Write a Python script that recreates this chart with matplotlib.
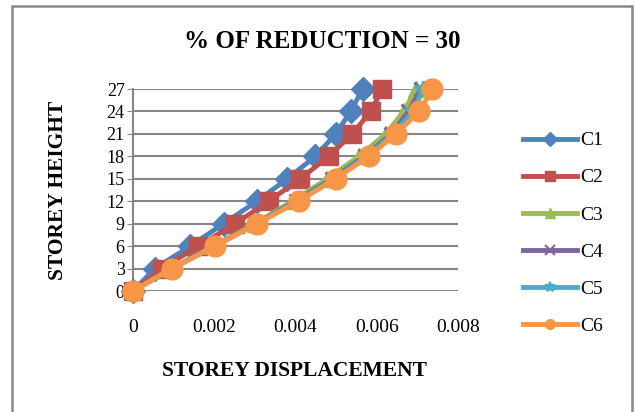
import matplotlib
matplotlib.use("Agg")
import matplotlib.pyplot as plt
from matplotlib.patches import Rectangle
from matplotlib.lines import Line2D

# Storey levels (height) and displacement of each column case
storey_height = [0, 3, 6, 9, 12, 15, 18, 21, 24, 27]
c1 = [0, 0.00054, 0.00141, 0.00223, 0.00305, 0.00380, 0.00449, 0.00499, 0.00536, 0.00565]
c2 = [0, 0.00071, 0.00161, 0.00252, 0.00334, 0.00412, 0.00482, 0.00540, 0.00585, 0.00614]
c3 = [0, 0.00094, 0.00198, 0.00300, 0.00392, 0.00478, 0.00556, 0.00622, 0.00667, 0.00696]
c4 = [0, 0.00095, 0.00200, 0.00302, 0.00400, 0.00490, 0.00570, 0.00636, 0.00678, 0.00709]
c5 = [0, 0.00096, 0.00201, 0.00304, 0.00404, 0.00495, 0.00575, 0.00640, 0.00690, 0.00714]
c6 = [0, 0.00096, 0.00202, 0.00305, 0.00408, 0.00499, 0.00581, 0.00647, 0.00705, 0.00737]

series_names = ["C1", "C2", "C3", "C4", "C5", "C6"]
x_ticks = [0, 0.002, 0.004, 0.006, 0.008]
x_tick_labels = ["0", "0.002", "0.004", "0.006", "0.008"]
y_ticks = [0, 3, 6, 9, 12, 15, 18, 21, 24, 27]

colors = ["#4F81BD", "#C0504D", "#9BBB59", "#8064A2", "#4BACC6", "#F79646"]
markers = ["D", "s", "^", "x", "*", "o"]
msizes = [12, 13, 11, 10, 12, 15]

plt.rcParams["font.family"] = ["Liberation Serif", "DejaVu Serif"]

fig = plt.figure(figsize=(6.35, 4.12), dpi=100)
ax = fig.add_axes([133 / 635, 1 - 291 / 412, 325 / 635, 202 / 412])

data = [c1, c2, c3, c4, c5, c6]
for vals, name, col, mk, ms in zip(data, series_names, colors, markers, msizes):
    ax.plot(vals, storey_height, color=col, lw=3.5, marker=mk, ms=ms,
            mew=2 if mk in ("x", "*") else 1, mec=col, mfc=col, label=name,
            clip_on=False, zorder=3)

ax.set_xlim(0, 0.008)
ax.set_ylim(0, 27)
ax.set_xticks(x_ticks)
ax.set_xticklabels(x_tick_labels)
ax.set_yticks(y_ticks)
ax.tick_params(axis="x", length=0, labelsize=14, pad=20)
ax.tick_params(axis="y", length=4, color="#868686", labelsize=13, pad=2)
ax.yaxis.grid(True, color="#868686", lw=1.5)
ax.set_axisbelow(True)
for side in ("top", "right", "bottom"):
    ax.spines[side].set_visible(False)
ax.spines["left"].set_color("#868686")
ax.spines["left"].set_linewidth(1.5)

fig.text(322 / 635, 1 - 42 / 412, "% OF REDUCTION = 30", ha="center", va="center",
         fontsize=18, fontweight="bold")
fig.text(295 / 635, 1 - 371 / 412, "STOREY DISPLACEMENT", ha="center", va="center",
         fontsize=15.5, fontweight="bold")
fig.text(58 / 635, 1 - 190 / 412, "STOREY HEIGHT", ha="center", va="center",
         rotation=90, fontsize=15.5, fontweight="bold")

# Legend keys: same styles with smaller markers
legend_keys = [Line2D([], [], color=col, lw=3.5, marker=mk, ms=7,
                      mew=1.5 if mk in ("x", "*") else 1, mec=col, mfc=col)
               for col, mk in zip(colors, markers)]
fig.legend(legend_keys, series_names, loc="upper left",
           bbox_to_anchor=(515 / 635, 1 - 124 / 412),
           frameon=False, fontsize=14, handlelength=2.8, handletextpad=0.15,
           labelspacing=1.0, borderaxespad=0)

fig.patches.append(Rectangle((12 / 635, -0.05), 620 / 635, 1.05 - 6 / 412,
                             transform=fig.transFigure, fill=False,
                             edgecolor="#888888", lw=1.8))

fig.savefig("out.png", dpi=100)
